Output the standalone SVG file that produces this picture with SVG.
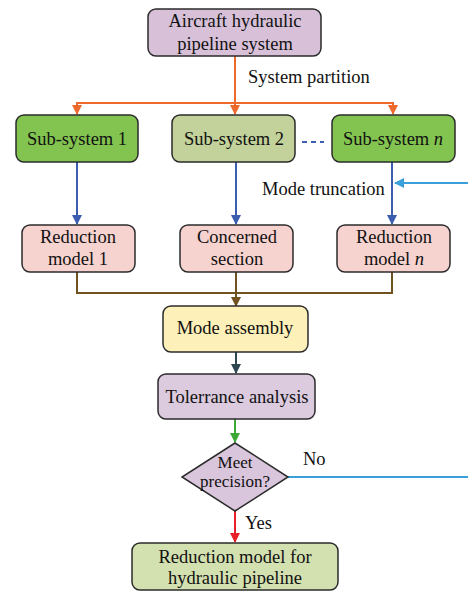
<svg xmlns="http://www.w3.org/2000/svg" width="468" height="592" viewBox="0 0 468 592">
<style>
.box{stroke:#2b2b2b;stroke-width:1.5}
text{font-family:"Liberation Serif","Times New Roman","DejaVu Serif",serif;font-size:18.5px;fill:#111;text-anchor:middle}
.lbl{text-anchor:start}
.sm{font-size:17px}
.ln{fill:none;stroke-width:2}
</style>
<defs>
<marker id="aO" markerWidth="10" markerHeight="10" refX="9" refY="5" orient="auto" markerUnits="userSpaceOnUse"><path d="M0,0 L10,5 L0,10 Z" fill="#ee6a2c"/></marker>
<marker id="aB" markerWidth="10" markerHeight="10" refX="9" refY="5" orient="auto" markerUnits="userSpaceOnUse"><path d="M0,0 L10,5 L0,10 Z" fill="#3b5fae"/></marker>
<marker id="aL" markerWidth="10" markerHeight="10" refX="9" refY="5" orient="auto" markerUnits="userSpaceOnUse"><path d="M0,0 L10,5 L0,10 Z" fill="#3a9fdb"/></marker>
<marker id="aBr" markerWidth="10" markerHeight="10" refX="9" refY="5" orient="auto" markerUnits="userSpaceOnUse"><path d="M0,0 L10,5 L0,10 Z" fill="#6f5220"/></marker>
<marker id="aD" markerWidth="10" markerHeight="10" refX="9" refY="5" orient="auto" markerUnits="userSpaceOnUse"><path d="M0,0 L10,5 L0,10 Z" fill="#2e4750"/></marker>
<marker id="aG" markerWidth="10" markerHeight="10" refX="9" refY="5" orient="auto" markerUnits="userSpaceOnUse"><path d="M0,0 L10,5 L0,10 Z" fill="#3aa835"/></marker>
<marker id="aR" markerWidth="10" markerHeight="10" refX="9" refY="5" orient="auto" markerUnits="userSpaceOnUse"><path d="M0,0 L10,5 L0,10 Z" fill="#e8202a"/></marker>
</defs>
<g id="connectors">
<path class="ln" stroke="#ee6a2c" d="M235,56 V103"/>
<path class="ln" stroke="#ee6a2c" d="M77,103 H393"/>
<path class="ln" stroke="#ee6a2c" d="M77,102 V114" marker-end="url(#aO)"/>
<path class="ln" stroke="#ee6a2c" d="M235,102 V114" marker-end="url(#aO)"/>
<path class="ln" stroke="#ee6a2c" d="M393,102 V114" marker-end="url(#aO)"/>
<path class="ln" stroke="#3b5fae" stroke-dasharray="5,4" d="M302,142 H324"/>
<path class="ln" stroke="#3b5fae" d="M77,162 V224" marker-end="url(#aB)"/>
<path class="ln" stroke="#3b5fae" d="M236,162 V224" marker-end="url(#aB)"/>
<path class="ln" stroke="#3b5fae" d="M392,162 V224" marker-end="url(#aB)"/>
<path class="ln" stroke="#3a9fdb" d="M468,183 H395" marker-end="url(#aL)"/>
<path class="ln" stroke="#6f5220" d="M77,272 V293 H392 V272"/>
<path class="ln" stroke="#6f5220" d="M236,272 V306" marker-end="url(#aBr)"/>
<path class="ln" stroke="#2e4750" d="M236,352 V373" marker-end="url(#aD)"/>
<path class="ln" stroke="#3aa835" d="M235,419 V442" marker-end="url(#aG)"/>
<path class="ln" stroke="#3a9fdb" d="M288,477 H468"/>
<path class="ln" stroke="#e8202a" d="M235,511 V542" marker-end="url(#aR)"/>
<text class="lbl" x="248" y="83">System partition</text>
<text class="lbl" x="262" y="195">Mode truncation</text>
<text class="lbl" x="303" y="465">No</text>
<text class="lbl" x="245" y="529">Yes</text>
</g>
<g id="n-top">
<rect class="box" x="148" y="9" width="173" height="47" rx="8" fill="#d8c1d8"/>
<text x="235" y="27">Aircraft hydraulic</text>
<text x="235" y="50">pipeline system</text>
</g>
<g id="n-sub1">
<rect class="box" x="16" y="115" width="122" height="47" rx="8" fill="#83c450"/>
<text x="77" y="145">Sub-system 1</text>
</g>
<g id="n-sub2">
<rect class="box" x="172" y="115" width="123" height="47" rx="8" fill="#c2d29a"/>
<text x="234" y="145">Sub-system 2</text>
</g>
<g id="n-subn">
<rect class="box" x="332" y="115" width="123" height="47" rx="8" fill="#83c450"/>
<text x="393" y="145">Sub-system <tspan font-style="italic">n</tspan></text>
</g>
<g id="n-red1">
<rect class="box" x="22" y="225" width="113" height="47" rx="8" fill="#f7d3cf"/>
<text x="78" y="243">Reduction</text>
<text x="78" y="265">model 1</text>
</g>
<g id="n-conc">
<rect class="box" x="180" y="225" width="113" height="47" rx="8" fill="#f7d3cf"/>
<text x="237" y="243">Concerned</text>
<text x="237" y="265">section</text>
</g>
<g id="n-redn">
<rect class="box" x="337" y="225" width="113" height="47" rx="8" fill="#f7d3cf"/>
<text x="394" y="243">Reduction</text>
<text x="394" y="265">model <tspan font-style="italic">n</tspan></text>
</g>
<g id="n-assembly">
<rect class="box" x="163" y="306" width="145" height="46" rx="8" fill="#fdf0b8"/>
<text x="235" y="334">Mode assembly</text>
</g>
<g id="n-tol">
<rect class="box" x="158" y="374" width="157" height="45" rx="8" fill="#dccbdf"/>
<text x="237" y="403">Tolerrance analysis</text>
</g>
<g id="n-meet">
<polygon class="box" points="235,443 288,477 235,511 182,477" fill="#d9c5dc"/>
<text class="sm" x="235" y="468">Meet</text>
<text class="sm" x="235" y="487">precision?</text>
</g>
<g id="n-final">
<rect class="box" x="132" y="543" width="206" height="47" rx="8" fill="#d3e0b0"/>
<text x="235" y="563">Reduction model for</text>
<text x="235" y="584">hydraulic pipeline</text>
</g>
</svg>
